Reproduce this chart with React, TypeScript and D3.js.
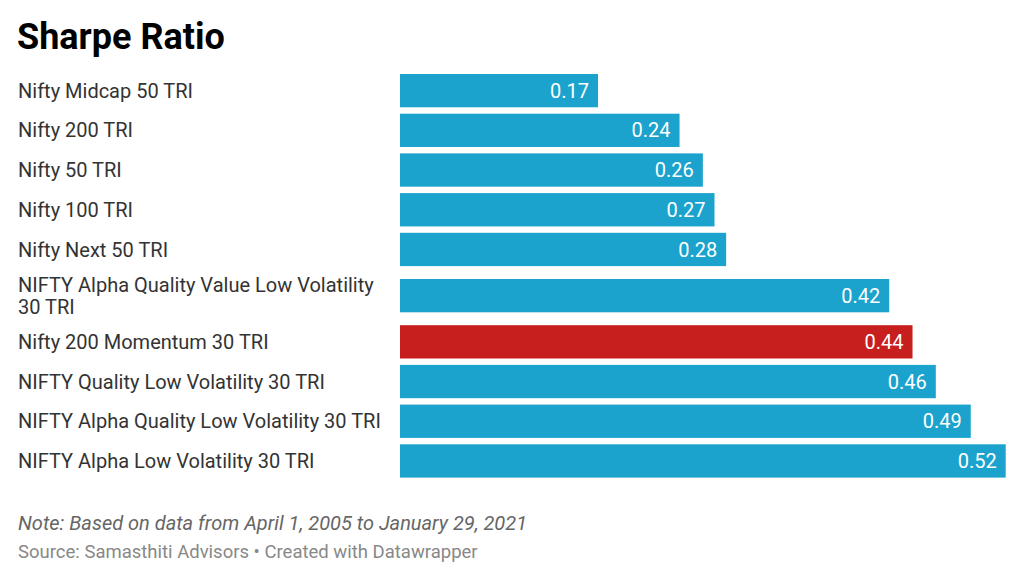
import React from "react";
import * as d3 from "d3";

const categories = [
  "Nifty Midcap 50 TRI",
  "Nifty 200 TRI",
  "Nifty 50 TRI",
  "Nifty 100 TRI",
  "Nifty Next 50 TRI",
  "NIFTY Alpha Quality Value Low Volatility 30 TRI",
  "Nifty 200 Momentum 30 TRI",
  "NIFTY Quality Low Volatility 30 TRI",
  "NIFTY Alpha Quality Low Volatility 30 TRI",
  "NIFTY Alpha Low Volatility 30 TRI",
];
const values = [0.17, 0.24, 0.26, 0.27, 0.28, 0.42, 0.44, 0.46, 0.49, 0.52];
const highlighted = ["Nifty 200 Momentum 30 TRI"];

const title = "Sharpe Ratio";
const note = "Note: Based on data from April 1, 2005 to January 29, 2021";
const source = "Source: Samasthiti Advisors • Created with Datawrapper";

const W = 1024;
const H = 580;
const FONT = "Roboto, 'Noto Sans', sans-serif";
const LABEL_SIZE = 20;
const LABEL_MAX = 375;
const BLUE = "#1ba3cd";
const RED = "#c61f1e";

function wrap(text: string, size: number, maxW: number): string[] {
  const canvas = document.createElement("canvas");
  const ctx = canvas.getContext("2d")!;
  ctx.font = `${size}px Roboto`;
  const words = text.split(" ");
  const lines: string[] = [];
  let cur = "";
  for (const w of words) {
    const test = cur ? cur + " " + w : w;
    if (ctx.measureText(test).width > maxW && cur) {
      lines.push(cur);
      cur = w;
    } else cur = test;
  }
  if (cur) lines.push(cur);
  return lines;
}

export default function App() {
  const x = d3.scaleLinear().domain([0, 0.52]).range([400, 1005.7]);
  const step = 39.7;
  const barH = 33.3;
  const extraPerLine = 13;
  const lineH = 21.7;

  const rows: { label: string; lines: string[]; value: number; barTop: number }[] = [];
  let yCur = 74 - (step - barH) / 2;
  categories.forEach((c, i) => {
    const lines = wrap(c, LABEL_SIZE, LABEL_MAX);
    const h = step + (lines.length - 1) * extraPerLine;
    const barTop = yCur + (h - barH) / 2;
    rows.push({ label: c, lines, value: values[i], barTop });
    yCur += h;
  });

  return (
    <svg width={W} height={H} style={{ position: "absolute", left: 0, top: 0, background: "#fff" }} fontFamily={FONT}>
      <rect x={0} y={0} width={W} height={H} fill="#fff" />
      <text x={17} y={48.5} fontSize={36} fontWeight={700} fill="#000">{title}</text>
      {rows.map((r) => {
        const cy = r.barTop + barH / 2;
        const n = r.lines.length;
        return (
          <g key={r.label}>
            <rect
              x={x(0)}
              y={r.barTop}
              width={x(r.value) - x(0)}
              height={barH}
              fill={highlighted.includes(r.label) ? RED : BLUE}
            />
            <text fontSize={LABEL_SIZE} fill="#333">
              {r.lines.map((ln, j) => (
                <tspan key={j} x={18} y={cy + 7.1 + (j - (n - 1) / 2) * lineH}>{ln}</tspan>
              ))}
            </text>
            <text x={x(r.value) - 9} y={cy + 7.1} fontSize={LABEL_SIZE} fill="#fff" textAnchor="end">
              {d3.format(".2f")(r.value)}
            </text>
          </g>
        );
      })}
      <text x={18} y={529.5} fontSize={20} fontStyle="italic" fill="#666">{note}</text>
      <text x={18} y={558} fontSize={18.5} fill="#888">{source}</text>
    </svg>
  );
}
